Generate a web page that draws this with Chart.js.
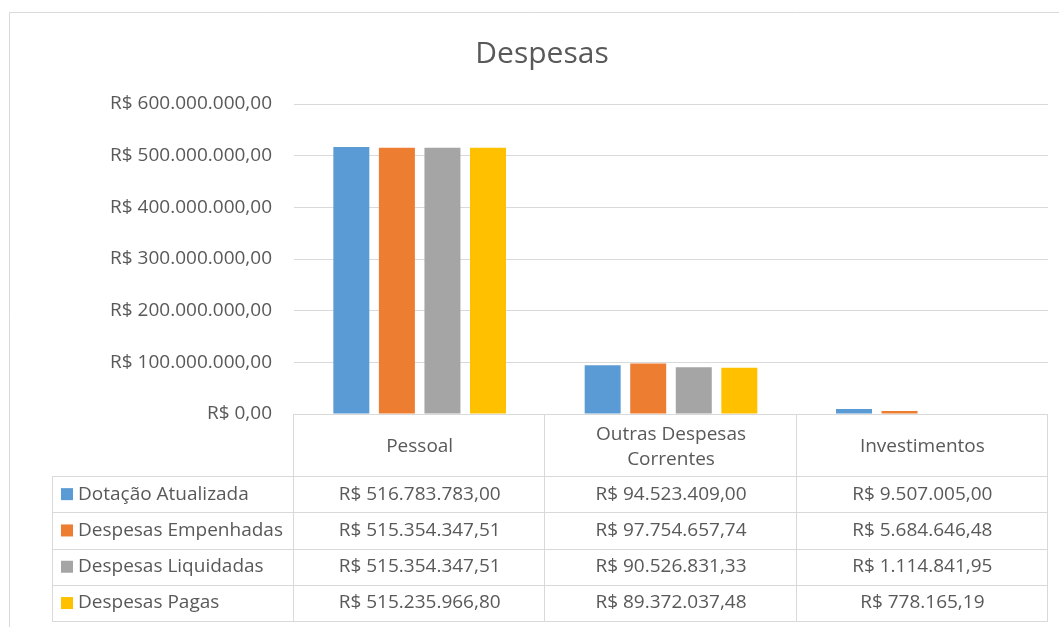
<!DOCTYPE html>
<html>
<head>
<meta charset="utf-8">
<script src="https://cdn.jsdelivr.net/npm/chart.js@4"></script>
<style>
  body { margin: 0; background: #fff; }
  #wrap { width: 1059px; height: 627px; }
</style>
</head>
<body>
<div id="wrap"><canvas id="despesas" width="1059" height="627"></canvas></div>
<script>
var categories = ['Pessoal', ['Outras Despesas', 'Correntes'], 'Investimentos'];
var seriesNames = ['Dotação Atualizada', 'Despesas Empenhadas', 'Despesas Liquidadas', 'Despesas Pagas'];
var dotacao = [516783783.00, 94523409.00, 9507005.00];
var empenhadas = [515354347.51, 97754657.74, 5684646.48];
var liquidadas = [515354347.51, 90526831.33, 1114841.95];
var pagas = [515235966.80, 89372037.48, 778165.19];
var yTicks = [0, 100000000, 200000000, 300000000, 400000000, 500000000, 600000000];

var colors = ['#5B9BD5', '#ED7D31', '#A5A5A5', '#FFC000'];
var textColor = '#595959';
var lineColor = '#D9D9D9';
var fontFamily = '"Open Sans", sans-serif';
var fontSize = 19;

function reais(v) {
    var parts = v.toFixed(2).split('.');
    var inteiro = parts[0].replace(/\B(?=(\d{3})+(?!\d))/g, '.');
    return 'R$ ' + inteiro + ',' + parts[1];
}

// excel style data table under the plot
var tablePlugin = {
    id: 'tabela',
    beforeDraw: function(chart) {
        var ctx = chart.ctx;
        ctx.save();
        ctx.fillStyle = '#fff';
        ctx.fillRect(0, 0, chart.width, chart.height);
        ctx.strokeStyle = lineColor;
        ctx.lineWidth = 1;
        ctx.beginPath();
        ctx.moveTo(9.5, chart.height);
        ctx.lineTo(9.5, 12.5);
        ctx.lineTo(chart.width, 12.5);
        ctx.stroke();
        ctx.restore();
    },
    afterDraw: function(chart) {
        var ctx = chart.ctx;
        var area = chart.chartArea;
        var x = chart.scales.x;
        var colW = (area.right - area.left) / categories.length;
        var top = Math.round(area.bottom);
        var headerH = 62;
        var rowH = 36.3;
        var legendLeft = 52;
        var bottom = top + headerH + rowH * seriesNames.length;

        ctx.save();
        ctx.strokeStyle = lineColor;
        ctx.lineWidth = 1;
        ctx.beginPath();
        ctx.moveTo(area.left, top + 0.5);
        ctx.lineTo(area.right, top + 0.5);
        for (var r = 0; r <= seriesNames.length; r++) {
            var yy = Math.round(top + headerH + r * rowH) + 0.5;
            ctx.moveTo(legendLeft, yy);
            ctx.lineTo(area.right, yy);
        }
        ctx.moveTo(legendLeft + 0.5, top + headerH);
        ctx.lineTo(legendLeft + 0.5, bottom);
        for (var c = 0; c <= categories.length; c++) {
            var xx = Math.round(area.left + c * colW) - 0.5;
            ctx.moveTo(xx, top);
            ctx.lineTo(xx, bottom);
        }
        ctx.stroke();

        ctx.fillStyle = textColor;
        ctx.font = fontSize + 'px ' + fontFamily;
        ctx.textAlign = 'center';
        ctx.textBaseline = 'middle';
        categories.forEach(function(cat, i) {
            var cx = x.getPixelForValue(i);
            var lines = Array.isArray(cat) ? cat : [cat];
            var mid = top + headerH / 2 + 2;
            lines.forEach(function(t, k) {
                ctx.fillText(t, cx, mid + (k - (lines.length - 1) / 2) * 25);
            });
        });

        chart.data.datasets.forEach(function(ds, s) {
            var cy = top + headerH + (s + 0.5) * rowH;
            ctx.fillStyle = colors[s];
            ctx.fillRect(61, cy - 6, 12, 12);
            ctx.fillStyle = textColor;
            ctx.textAlign = 'left';
            ctx.fillText(ds.label, 78, cy);
            ctx.textAlign = 'center';
            ds.data.forEach(function(v, i) {
                ctx.fillText(reais(v), x.getPixelForValue(i), cy);
            });
        });
        ctx.restore();
    }
};

var seriesValues = [dotacao, empenhadas, liquidadas, pagas];

var layout = {
    type: 'bar',
    data: {
        labels: categories,
        datasets: seriesNames.map(function(name, i) {
            return {
                label: name,
                data: seriesValues[i],
                backgroundColor: colors[i],
                categoryPercentage: 0.725,
                barPercentage: 0.79
            };
        })
    },
    options: {
        responsive: false,
        animation: false,
        layout: {
            padding: { left: 36, right: 11, top: 12, bottom: 213 }
        },
        plugins: {
            legend: { display: false },
            tooltip: { enabled: false },
            title: {
                display: true,
                text: 'Despesas',
                color: textColor,
                font: { family: fontFamily, size: 30, weight: 'normal' },
                padding: { top: 24, bottom: 32 }
            }
        },
        scales: {
            x: {
                display: false
            },
            y: {
                min: 0,
                max: 600000000,
                afterFit: function(scale) { scale.width = 258; },
                afterBuildTicks: function(scale) {
                    scale.ticks = yTicks.map(function(v) { return { value: v }; });
                },
                border: { display: false },
                grid: { color: lineColor, drawTicks: false },
                ticks: {
                    padding: 22,
                    color: textColor,
                    font: { family: fontFamily, size: fontSize },
                    callback: function(v) { return reais(v); }
                }
            }
        }
    },
    plugins: [tablePlugin]
};

new Chart(document.getElementById('despesas'), layout);
</script>
</body>
</html>
